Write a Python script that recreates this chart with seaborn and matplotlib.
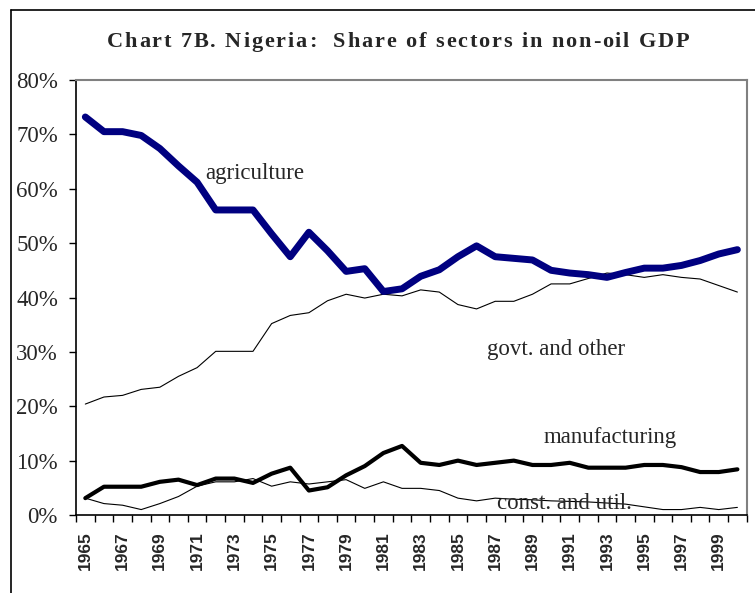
import matplotlib
matplotlib.use("Agg")
import matplotlib.pyplot as plt
import seaborn as sns
import pandas as pd
from matplotlib.lines import Line2D
from matplotlib.ticker import FuncFormatter
from matplotlib.textpath import TextPath
from matplotlib.font_manager import FontProperties

years = list(range(1965, 2001))
agriculture = [73.2, 70.5, 70.5, 69.8, 67.4, 64.2, 61.2, 56.1, 56.1, 56.1,
               51.7, 47.5, 52.0, 48.6, 44.8, 45.3, 41.1, 41.6, 43.9, 45.1,
               47.5, 49.5, 47.5, 47.2, 46.9, 45.0, 44.5, 44.2, 43.7, 44.6,
               45.4, 45.4, 45.9, 46.8, 48.0, 48.8]
govt_other = [20.4, 21.7, 22.0, 23.1, 23.5, 25.5, 27.1, 30.1, 30.1, 30.1,
              35.2, 36.7, 37.2, 39.4, 40.6, 39.9, 40.6, 40.3, 41.4, 41.0,
              38.7, 37.9, 39.3, 39.3, 40.6, 42.5, 42.5, 43.5, 44.5, 44.2,
              43.7, 44.2, 43.7, 43.4, 42.2, 41.0]
manufacturing = [3.1, 5.2, 5.2, 5.2, 6.1, 6.5, 5.5, 6.7, 6.7, 5.9,
                 7.6, 8.7, 4.5, 5.1, 7.3, 9.0, 11.4, 12.7, 9.6, 9.2,
                 10.0, 9.2, 9.6, 10.0, 9.2, 9.2, 9.6, 8.7, 8.7, 8.7,
                 9.2, 9.2, 8.8, 7.9, 7.9, 8.4]
const_util = [3.1, 2.1, 1.8, 1.0, 2.1, 3.4, 5.3, 6.1, 6.1, 6.7,
              5.3, 6.1, 5.7, 6.1, 6.5, 4.9, 6.1, 4.9, 4.9, 4.5,
              3.1, 2.6, 3.1, 2.9, 2.8, 2.6, 2.5, 2.4, 2.2, 2.0,
              1.5, 1.0, 1.0, 1.4, 1.0, 1.4]

series_labels = ["agriculture", "govt. and other", "manufacturing", "const. and util."]
title = "Chart 7B. Nigeria:  Share of sectors in non-oil GDP"

df = pd.DataFrame({"idx": range(len(years)), "agriculture": agriculture,
                   "govt": govt_other, "manu": manufacturing, "const": const_util})

sns.set_style("white")
plt.rcParams["font.family"] = ["Liberation Serif", "DejaVu Serif"]

W, H = 755, 593
fig = plt.figure(figsize=(W / 100, H / 100), dpi=100)
ax = fig.add_axes([76 / W, 1 - 515 / H, (746.7 - 76) / W, (515 - 80) / H])

sns.lineplot(data=df, x="idx", y="govt", ax=ax, color="black", linewidth=0.8)
sns.lineplot(data=df, x="idx", y="const", ax=ax, color="black", linewidth=0.8)
sns.lineplot(data=df, x="idx", y="manu", ax=ax, color="black", linewidth=3.0)
sns.lineplot(data=df, x="idx", y="agriculture", ax=ax, color="#000080", linewidth=5.0,
             solid_capstyle="round")

ax.set_xlim(-0.5, len(years) - 0.5)
ax.set_ylim(0, 80)
ax.set_xlabel("")
ax.set_ylabel("")

# y axis
ax.set_yticks(range(0, 81, 10))
ax.yaxis.set_major_formatter(FuncFormatter(lambda v, p: f"{int(v)}%"))
ax.tick_params(axis="y", which="major", direction="out", length=5, width=1,
               color="black", pad=8, labelsize=16.5, left=True)

# x axis: ticks at category boundaries, labels at alternate centres
ax.set_xticks([i - 0.5 for i in range(len(years) + 1)])
ax.set_xticklabels([])
ax.tick_params(axis="x", which="major", direction="out", length=5, width=1,
               color="black", bottom=True)
ax.set_xticks(list(range(0, len(years), 2)), minor=True)
ax.set_xticklabels([str(years[i]) for i in range(0, len(years), 2)], minor=True,
                   rotation=90, fontfamily="Liberation Sans", fontweight="bold",
                   fontsize=12.5)
ax.tick_params(axis="x", which="minor", length=0, pad=12)

for side in ["left", "bottom"]:
    ax.spines[side].set_color("black")
    ax.spines[side].set_linewidth(1.2)
for side in ["top", "right"]:
    ax.spines[side].set_color("#808080")
    ax.spines[side].set_linewidth(1.5)

# series labels
ax.text(6.43, 62.8, series_labels[0], fontsize=16.5, ha="left", va="center")
ax.text(21.58, 30.5, series_labels[1], fontsize=16.5, ha="left", va="center")
ax.text(24.6, 14.3, series_labels[2], fontsize=16.5, ha="left", va="center")
ax.text(22.12, 2.2, series_labels[3], fontsize=16.5, ha="left", va="center")

# letter-spaced bold title, drawn character by character
tsize = 16
fp = FontProperties(family="Liberation Serif", weight="bold", size=tsize)
px_per_unit = 100 / 72.0
adv = []
for ch in title:
    if ch == " ":
        w = TextPath((0, 0), "a a", prop=fp).get_extents().width - TextPath((0, 0), "aa", prop=fp).get_extents().width
    else:
        w = TextPath((0, 0), "a" + ch + "a", prop=fp).get_extents().width - TextPath((0, 0), "aa", prop=fp).get_extents().width
    adv.append(w * px_per_unit)
spacing = 1.9
total = sum(adv) + spacing * (len(title) - 1)
x0 = 398 - total / 2
xc = x0
for ch, a in zip(title, adv):
    if ch != " ":
        fig.text(xc / W, 1 - 42 / H, ch, fontproperties=fp, ha="left", va="center")
    xc += a + spacing

# outer frame (left and top edges visible)
fig.add_artist(Line2D([11 / W, 11 / W], [1 - 10 / H, 0], transform=fig.transFigure,
                      color="black", linewidth=1.2))
fig.add_artist(Line2D([11 / W, 1], [1 - 10 / H, 1 - 10 / H], transform=fig.transFigure,
                      color="black", linewidth=1.2))

fig.savefig("out.png", dpi=100)
